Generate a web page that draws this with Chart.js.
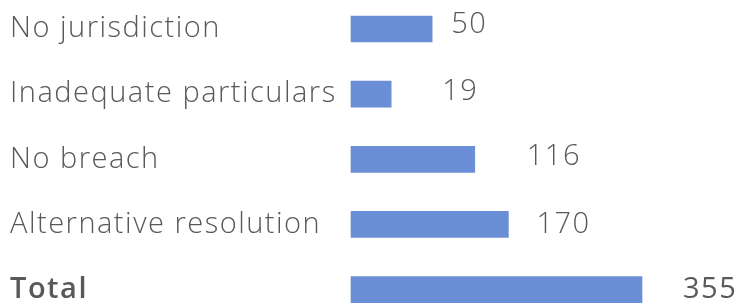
<!DOCTYPE html>
<html>
<head>
<meta charset="utf-8">
<script src="https://cdn.jsdelivr.net/npm/chart.js@4"></script>
<style>
html,body{margin:0;padding:0;background:#fff;}
#wrap{width:739px;height:307px;position:relative;}
</style>
</head>
<body>
<div id="wrap"><canvas id="c"></canvas></div>
<script>
// Categories and values as printed in the reference
const categories = ["No jurisdiction", "Inadequate particulars", "No breach", "Alternative resolution", "Total"];
const valueLabels = [50, 19, 116, 170, 355];
// Bar lengths as drawn in the reference, read on the same scale where the Total bar = 355
const barLengths = [99, 49, 151, 192, 355];

const TEXT = "#595959";
const BAR = "#6a8fd6";
const FONT = "'Open Sans'";
const SPACING = "1.5px";
const labelGap = [19, 51, 52, 28, 41];
const labelDy = [-4, -2, -3, 0, 0];

const spacingPlugin = {
  id: "spacing",
  beforeUpdate(chart) { chart.ctx.letterSpacing = SPACING; },
  beforeDraw(chart) { chart.ctx.letterSpacing = SPACING; }
};

const valuePlugin = {
  id: "valueLabels",
  afterDatasetsDraw(chart) {
    const ctx = chart.ctx;
    const meta = chart.getDatasetMeta(0);
    ctx.save();
    ctx.letterSpacing = SPACING;
    ctx.textBaseline = "middle";
    ctx.textAlign = "left";
    meta.data.forEach((bar, i) => {
      const last = i === categories.length - 1;
      ctx.font = (last ? "400 " : "300 ") + "29px " + FONT;
      ctx.fillStyle = TEXT;
      ctx.fillText(String(valueLabels[i]), bar.x + labelGap[i], bar.y + labelDy[i]);
    });
    ctx.restore();
  }
};

new Chart(document.getElementById("c"), {
  type: "bar",
  data: {
    labels: categories,
    datasets: [{
      data: barLengths,
      backgroundColor: BAR,
      borderWidth: 0,
      barThickness: 26,
      clip: false
    }]
  },
  options: {
    indexAxis: "y",
    responsive: true,
    maintainAspectRatio: false,
    animation: false,
    layout: { padding: { left: 10, right: 97, top: 29, bottom: 13 } },
    plugins: { legend: { display: false }, tooltip: { enabled: false } },
    scales: {
      x: { display: false, min: 0, max: 355 },
      y: {
        offset: false,
        grid: { display: false },
        border: { display: false },
        afterFit(scale) { scale.width = 341; },
        ticks: {
          crossAlign: "far",
          padding: 0,
          color: TEXT,
          font: (ctx) => ({ family: "'Open Sans'", size: 29, weight: ctx.index === 4 ? "600" : "300" })
        }
      }
    }
  },
  plugins: [spacingPlugin, valuePlugin]
});
</script>
</body>
</html>
